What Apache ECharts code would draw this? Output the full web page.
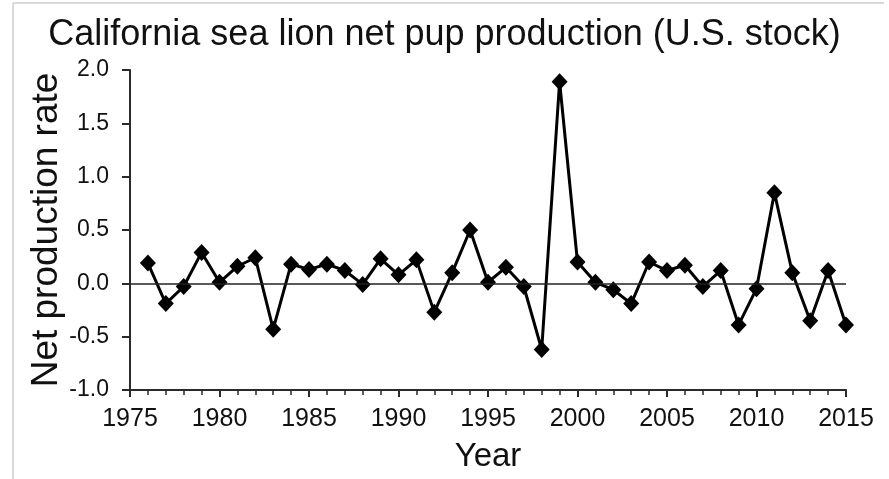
<!DOCTYPE html>
<html>
<head>
<meta charset="utf-8">
<script src="https://cdn.jsdelivr.net/npm/echarts@6/dist/echarts.min.js"></script>
<style>html,body{margin:0;padding:0;background:#fff;}#chart{width:889px;height:479px;}</style>
</head>
<body>
<div id="chart"></div>
<script>
const years = [1976,1977,1978,1979,1980,1981,1982,1983,1984,1985,1986,1987,1988,1989,1990,1991,1992,1993,1994,1995,1996,1997,1998,1999,2000,2001,2002,2003,2004,2005,2006,2007,2008,2009,2010,2011,2012,2013,2014,2015];
const netRate = [0.19,-0.19,-0.03,0.29,0.01,0.16,0.24,-0.43,0.18,0.13,0.18,0.12,-0.01,0.23,0.08,0.22,-0.27,0.10,0.50,0.01,0.15,-0.03,-0.62,1.89,0.20,0.01,-0.06,-0.19,0.20,0.12,0.17,-0.03,0.12,-0.39,-0.05,0.85,0.10,-0.35,0.12,-0.39];
const xTicks = [1975,1980,1985,1990,1995,2000,2005,2010,2015];
const yTicks = [-1.0,-0.5,0.0,0.5,1.0,1.5,2.0];
const titleText = 'California sea lion net pup production (U.S. stock)';
const xName = 'Year';
const yName = 'Net production rate';

const chart = echarts.init(document.getElementById('chart'), null, {renderer: 'canvas'});
const font = 'Arial, "Liberation Sans", sans-serif';
const axisColor = '#2a2a2a';
chart.setOption({
  animation: false,
  backgroundColor: '#fff',
  title: {
    text: titleText, left: 'center', top: 12,
    textStyle: {fontFamily: font, fontSize: 36, fontWeight: 'normal', color: '#111'}
  },
  grid: {left: 130, right: 43, top: 70, bottom: 89},
  xAxis: {
    type: 'value', min: xTicks[0], max: xTicks[xTicks.length-1], interval: 5,
    name: xName, nameLocation: 'middle', nameGap: 50, nameMoveOverlap: false,
    nameTextStyle: {fontFamily: font, fontSize: 33, color: '#111'},
    axisLine: {show: true, onZero: false, lineStyle: {color: axisColor, width: 2}},
    axisTick: {show: true, length: 7, lineStyle: {color: axisColor, width: 2}},
    minorTick: {show: true, splitNumber: 5, length: 5, lineStyle: {color: axisColor, width: 1.5}},
    splitLine: {show: false},
    axisLabel: {fontFamily: font, fontSize: 25, color: '#111', margin: 17, formatter: v => String(v)}
  },
  yAxis: {
    type: 'value', min: yTicks[0], max: yTicks[yTicks.length-1], interval: 0.5,
    name: yName, nameLocation: 'middle', nameGap: 65, nameRotate: 90, nameMoveOverlap: false,
    nameTextStyle: {fontFamily: font, fontSize: 37, color: '#111'},
    axisLine: {show: true, onZero: false, lineStyle: {color: axisColor, width: 2}},
    axisTick: {show: true, length: 8, lineStyle: {color: axisColor, width: 2}},
    splitLine: {show: false},
    axisLabel: {fontFamily: font, fontSize: 23, color: '#111', margin: 21, formatter: v => v.toFixed(1)}
  },
  graphic: [
    {type: 'line', shape: {x1: 13, y1: 3, x2: 884, y2: 3}, style: {stroke: '#d9d9d9', lineWidth: 2}, silent: true},
    {type: 'line', shape: {x1: 13, y1: 3, x2: 13, y2: 479}, style: {stroke: '#d9d9d9', lineWidth: 2}, silent: true}
  ],
  series: [{
    type: 'line',
    data: years.map((y, i) => [y, netRate[i]]),
    symbol: 'diamond', symbolSize: [16, 17],
    itemStyle: {color: '#000'},
    lineStyle: {color: '#000', width: 3},
    markLine: {
      silent: true, symbol: 'none', label: {show: false},
      lineStyle: {color: '#222', width: 1.5, type: 'solid'},
      data: [{yAxis: 0}]
    },
    z: 3
  }]
});
</script>
</body>
</html>
